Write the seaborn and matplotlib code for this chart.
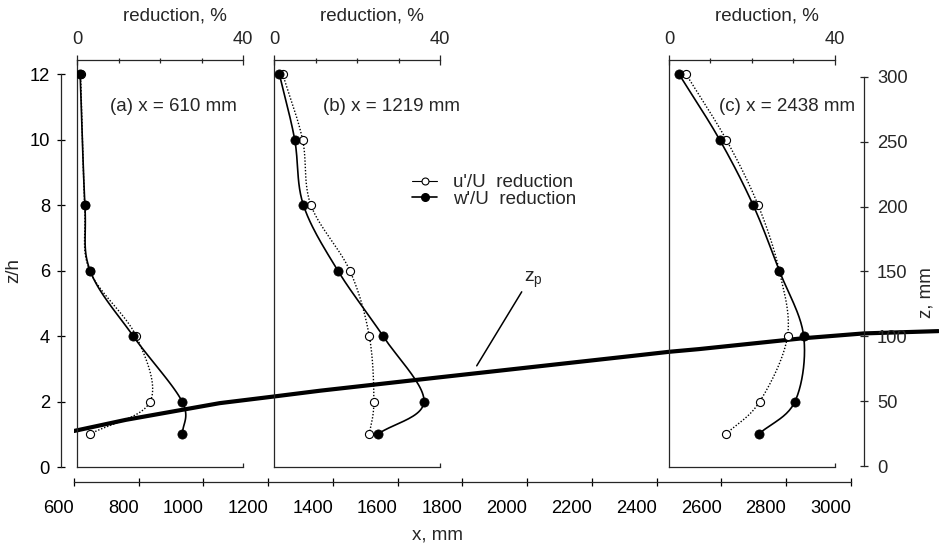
import numpy as np
import matplotlib
matplotlib.use("Agg")
import matplotlib.pyplot as plt
import seaborn as sns
from matplotlib.lines import Line2D

# ---- data -------------------------------------------------------------
# station (a): heights z/h and turbulence reductions in %
z_a = [12, 8, 6, 4, 2, 1]
u_a = [0.8, 1.8, 3.0, 14.2, 17.6, 3.0]
w_a = [0.7, 1.85, 3.1, 13.5, 25.3, 25.4]

# stations (b) and (c)
z_bc = [12, 10, 8, 6, 4, 2, 1]
u_b = [2.0, 6.8, 8.8, 18.2, 22.9, 24.0, 22.9]
w_b = [1.2, 4.9, 7.0, 15.3, 26.2, 36.1, 24.9]
u_c = [4.1, 13.8, 21.5, 26.6, 28.6, 21.9, 13.7]
w_c = [2.4, 12.2, 20.3, 26.6, 32.5, 30.4, 21.6]

stations = [610, 1219, 2438]
station_labels = ["(a) x = 610 mm", "(b) x = 1219 mm", "(c) x = 2438 mm"]
label_offsets = [8.0, 11.7, 12.1]      # left edge of each station label, in %

# height of the internal boundary z_p along the fetch
zp_x = [600, 760, 1050, 1215, 1360, 1730, 2350, 2440, 2530, 2850, 3040, 3270]
zp_z = [1.10, 1.44, 1.95, 2.15, 2.33, 2.74, 3.42, 3.52, 3.60, 3.93, 4.08, 4.15]

x_ticks = [600, 800, 1000, 1200, 1400, 1600, 1800, 2000, 2200, 2400, 2600, 2800, 3000]
zh_ticks = [0, 2, 4, 6, 8, 10, 12]
zmm_ticks = [0, 50, 100, 150, 200, 250, 300]
red_major = [0, 40]
red_minor = [10, 20, 30]

# ---- style ------------------------------------------------------------
sns.set_style("ticks")
plt.rcParams["font.family"] = ["Liberation Sans", "DejaVu Sans"]
plt.rcParams["mathtext.fontset"] = "custom"
plt.rcParams["mathtext.rm"] = "Liberation Sans"
plt.rcParams["mathtext.it"] = "Liberation Sans"
FS = 13.2          # tick labels
FT = 13.5          # other text
LW = 0.9
MM_PER_PCT = 12.8          # horizontal scale of the reduction profiles
XMAX = 3272
YMAX = 12.43

def catmull_rom(x, y, n=24):
    """Smooth curve passing through the measured points."""
    p = np.column_stack([x, y]).astype(float)
    ext = np.vstack([2 * p[0] - p[1], p, 2 * p[-1] - p[-2]])
    t = np.linspace(0, 1, n, endpoint=False)[:, None]
    segs = []
    for i in range(1, len(ext) - 2):
        p0, p1, p2, p3 = ext[i - 1], ext[i], ext[i + 1], ext[i + 2]
        seg = 0.5 * (2 * p1 + (-p0 + p2) * t
                     + (2 * p0 - 5 * p1 + 4 * p2 - p3) * t ** 2
                     + (-p0 + 3 * p1 - 3 * p2 + p3) * t ** 3)
        segs.append(seg)
    segs.append(p[-1][None, :])
    c = np.vstack(segs)
    return c[:, 0], c[:, 1]

fig = plt.figure(figsize=(9.39, 5.45), dpi=100)
ax = fig.add_axes([74 / 939, (545 - 467) / 545, 865 / 939, 407 / 545])
ax.set_xlim(600, XMAX)
ax.set_ylim(0, YMAX)
ax.patch.set_alpha(0)

# main axes: x along the fetch, z/h on the left
for s in ("top", "right"):
    ax.spines[s].set_visible(False)
ax.spines["left"].set_position(("outward", 9.4))
ax.spines["left"].set_bounds(0, 12)
ax.spines["bottom"].set_position(("outward", 10.8))
ax.spines["bottom"].set_bounds(600, 3000)
for s in ("left", "bottom"):
    ax.spines[s].set_linewidth(LW)
ax.set_xticks(x_ticks)
ax.set_xticklabels([str(v) for v in x_ticks], ha="right")
ax.set_yticks(zh_ticks)
ax.tick_params(axis="both", direction="inout", length=5.8, width=LW,
               labelsize=FS, colors="black")
ax.tick_params(axis="y", pad=5)
ax.tick_params(axis="x", pad=10)
ax.set_xlabel("x, mm", fontsize=FT)
ax.xaxis.set_label_coords(0.4208, -0.145)
ax.set_ylabel("z/h", fontsize=FT)
ax.yaxis.set_label_coords(-0.060, 0.484)

# right axis in mm
ax2 = ax.twinx()
ax2.set_ylim(-0.77, 313.1)
for s in ("top", "left", "bottom"):
    ax2.spines[s].set_visible(False)
ax2.spines["right"].set_position(("data", 3040))
ax2.spines["right"].set_bounds(0, 300)
ax2.spines["right"].set_linewidth(LW)
ax2.set_yticks(zmm_ticks)
ax2.tick_params(axis="y", direction="inout", length=5.8, width=LW,
                labelsize=FS, pad=6.5)
ax2.set_ylabel("z, mm", fontsize=FT)
ax2.yaxis.set_label_coords(0.9746, 0.4275)

# internal boundary line and its label
sns.lineplot(x=zp_x, y=zp_z, ax=ax, color="black", lw=3.0,
             sort=False, estimator=None)
ax.annotate("", xy=(1844, 3.09), xytext=(1983, 5.35),
            arrowprops=dict(arrowstyle="-", lw=1.1, color="black",
                            shrinkA=0, shrinkB=0))
ax.text(1990, 5.70, r"$\mathregular{z_p}$", fontsize=FT + 0.5,
        ha="left", va="center")

# reduction profiles at the three stations
profiles = [(z_a, u_a, w_a), (z_bc, u_b, w_b), (z_bc, u_c, w_c)]
for x0, lab, lx, (z, u, w) in zip(stations, station_labels, label_offsets, profiles):
    pax = ax.inset_axes([x0, 0, 40 * MM_PER_PCT, YMAX],
                        transform=ax.transData)
    pax.set_xlim(0, 40)
    pax.set_ylim(0, YMAX)
    pax.patch.set_alpha(0)
    pax.spines["right"].set_visible(False)
    pax.spines["top"].set_visible(False)
    for s in ("left", "bottom"):
        pax.spines[s].set_linewidth(LW)
    pax.set_yticks([])
    pax.set_xticks([40])
    pax.tick_params(axis="x", direction="in", length=3, width=LW,
                    labelbottom=False)

    top = pax.secondary_xaxis("top")
    top.spines["top"].set_linewidth(LW)
    top.set_xticks(red_major)
    top.set_xticklabels([str(v) for v in red_major])
    top.set_xticks(red_minor, minor=True)
    top.tick_params(which="major", direction="inout", length=7, width=LW,
                    labelsize=FS, pad=5)
    top.tick_params(which="minor", direction="inout", length=3.6, width=LW)
    pax.text(0.59, 1.108, "reduction, %", transform=pax.transAxes,
             ha="center", va="center", fontsize=FT)
    pax.text(lx, 11.0, lab, ha="left", va="center", fontsize=FT)

    ux, uz = catmull_rom(u, z)
    wx, wz = catmull_rom(w, z)
    sns.lineplot(x=ux, y=uz, ax=pax, color="black", lw=1.0,
                 linestyle=(0, (1, 1.3)), sort=False, estimator=None)
    sns.lineplot(x=wx, y=wz, ax=pax, color="black", lw=1.2,
                 sort=False, estimator=None)
    sns.scatterplot(x=u, y=z, ax=pax, marker="o", s=34, color="white",
                    edgecolor="black", linewidth=0.8, zorder=4)
    sns.scatterplot(x=w, y=z, ax=pax, marker="o", s=44, color="black",
                    edgecolor="black", linewidth=0.5, zorder=5)

# legend
handles = [
    Line2D([], [], color="black", lw=0.8, marker="o", markersize=5,
           markerfacecolor="white", markeredgecolor="black", markeredgewidth=0.8),
    Line2D([], [], color="black", lw=1.2, marker="o", markersize=5.5,
           markerfacecolor="black", markeredgecolor="black"),
]
fig.legend(handles, ["u'/U  reduction", "w'/U  reduction"],
           loc="upper left", bbox_to_anchor=(412 / 939, 1 - 174 / 545),
           frameon=False, fontsize=FT, handlelength=1.35, handletextpad=0.85,
           labelspacing=-0.02, borderpad=0, borderaxespad=0)

fig.savefig("out.png", dpi=100)
